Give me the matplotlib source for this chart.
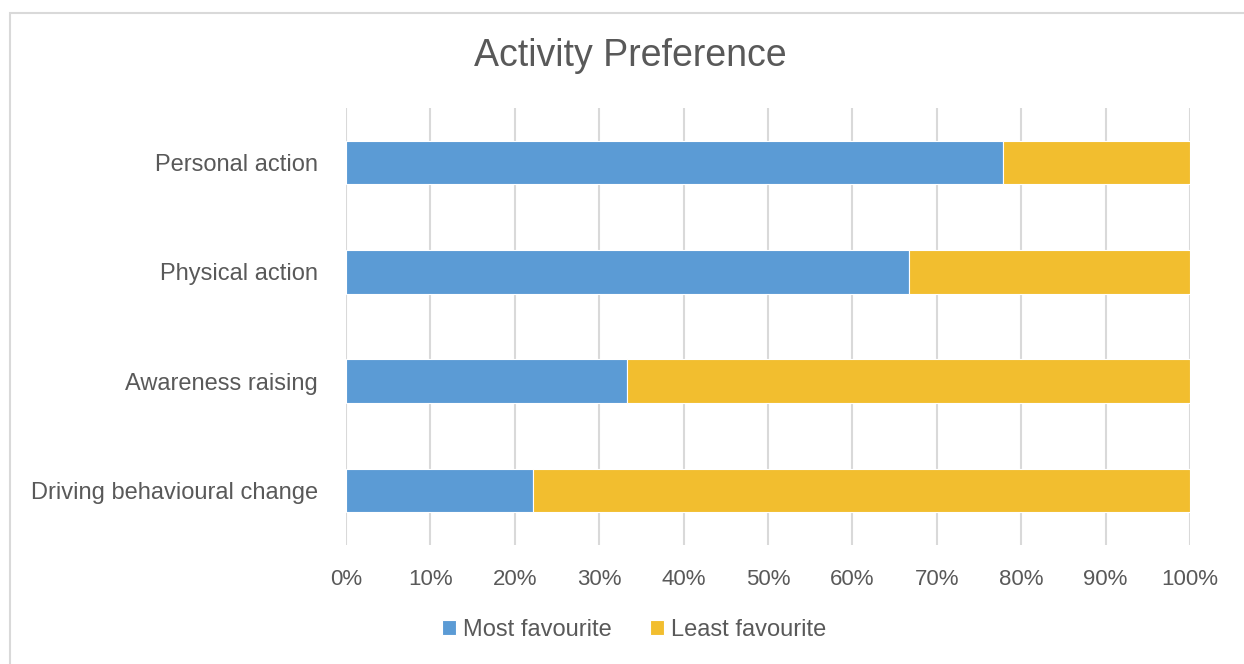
import matplotlib.pyplot as plt
from matplotlib.patches import Rectangle
from matplotlib.ticker import PercentFormatter

# Dados do gráfico (percentuais)
categorias = ["Personal action", "Physical action", "Awareness raising",
              "Driving behavioural change"]
mais_favorito = [77.8, 66.7, 33.3, 22.2]
menos_favorito = [22.2, 33.3, 66.7, 77.8]

azul = "#5B9BD5"
amarelo = "#F2BE2F"
cinza_texto = "#595959"

plt.rcParams['font.family'] = ['Liberation Sans', 'DejaVu Sans']

fig = plt.figure(figsize=(12.44, 6.64), dpi=100)
ax = fig.add_axes([346 / 1244, 1 - 545 / 664, 844 / 1244, 437 / 664])

# Borda do gráfico no estilo Excel
fig.patches.append(Rectangle((10 / 1244, -0.1), 1.2, 1 - 13 / 664 + 0.1,
                             transform=fig.transFigure, fill=False,
                             edgecolor="#D9D9D9", linewidth=1.5))

pos = list(range(len(categorias)))
ax.barh(pos, mais_favorito, height=0.4, color=azul, edgecolor="white",
        linewidth=0.8, label="Most favourite", zorder=3)
ax.barh(pos, menos_favorito, left=mais_favorito, height=0.4, color=amarelo,
        edgecolor="white", linewidth=0.8, label="Least favourite", zorder=3)

ax.set_xlim(0, 100)
ax.set_ylim(len(categorias) - 0.5, -0.5)
ax.set_yticks(pos)
ax.set_yticklabels(categorias)
ax.set_xticks(range(0, 101, 10))
ax.xaxis.set_major_formatter(PercentFormatter(decimals=0))
ax.tick_params(axis='x', length=0, labelsize=16, colors=cinza_texto, pad=17)
ax.tick_params(axis='y', length=0, labelsize=17, colors=cinza_texto, pad=20)
ax.grid(axis='x', color="#D9D9D9", linewidth=1.5, zorder=0)
for s in ax.spines.values():
    s.set_visible(False)

fig.text(630 / 1244, 1 - 56 / 664, "Activity Preference", ha='center',
         va='center', fontsize=27, color=cinza_texto)

fig.legend(loc='center', bbox_to_anchor=(634 / 1244, 1 - 630 / 664), ncol=2,
           frameon=False, fontsize=17, labelcolor=cinza_texto,
           handlelength=0.6, handleheight=0.6, handletextpad=0.3,
           columnspacing=1.6)

fig.savefig("out.png", dpi=100)
